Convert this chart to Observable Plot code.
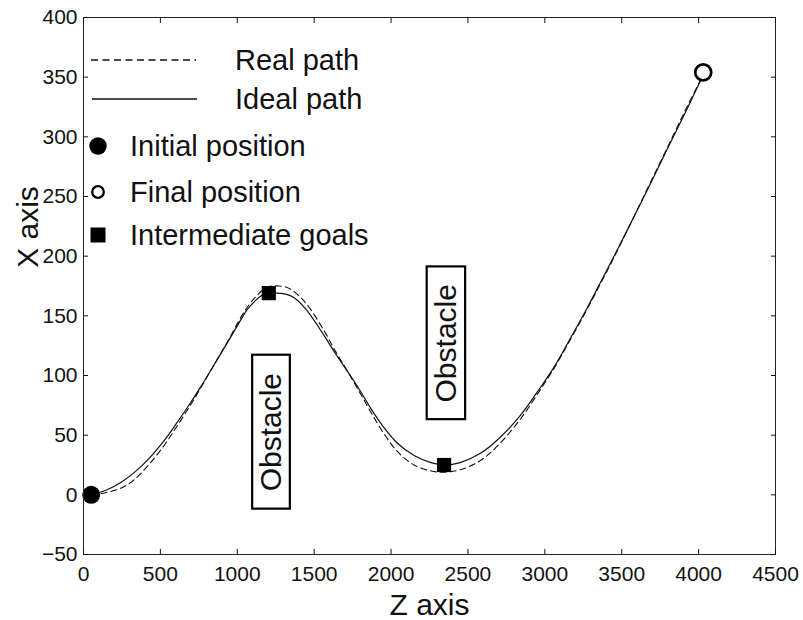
<!DOCTYPE html>
<html><head><meta charset="utf-8">
<script src="https://cdn.jsdelivr.net/npm/d3@7"></script>
<script src="https://cdn.jsdelivr.net/npm/@observablehq/plot@0.6"></script>
<style>body{margin:0;background:#fff}#chart{width:803px;height:620px}</style>
</head><body><div id="chart"></div>
<script>
// Ideal path (solid)
const zIdeal = [50,150,250,333,430,528,600,680,760,831,900,961,1020,1069,1120,1170,1210,1260,1320,1372,1450,1567,1640,1719,1800,1870,1950,2043,2150,2260,2346,2450,2584,2700,2844,2950,3060,3170,3277,3370,3450,3560,3680,3797,3920,4030];
const xIdeal = [0,4,11,19,31,46,59,74,90,105,120,133,146,156,163,168,169,169,168,165,155,133,118,103,87,72,57,43,33,27,25,27,35,47,67,86,107,132,157,180,200,228,259,290,322,352];
// Real path (dashed)
const zReal = [50,150,250,333,430,528,600,680,760,831,900,961,1020,1069,1120,1170,1220,1270,1320,1372,1450,1567,1640,1719,1800,1870,1950,2043,2150,2260,2346,2450,2584,2700,2844,2950,3060,3170,3277,3370,3450,3560,3680,3797,3920,4030];
const xReal = [0,2,6,13,26,42,56,72,89,105,120,134,148,158,166,172,175,175,174,170,160,137,120,103,85,69,52,36,25,20,19,21,29,42,64,84,106,131,156,179,199,228,260,291,324,352];
// Markers
const initialZ = [50], initialX = [0];
const finalZ = [4030], finalX = [354];
const goalZ = [1205, 2345], goalX = [169, 25];
// Obstacles
const obstacleZ1 = [1100, 2235], obstacleZ2 = [1345, 2485];
const obstacleX1 = [-12, 63], obstacleX2 = [117, 191];
const obstacleLabels = ["Obstacle", "Obstacle"];
// Axes
const zTicks = [0,500,1000,1500,2000,2500,3000,3500,4000,4500];
const xTicks = [-50,0,50,100,150,200,250,300,350,400];
const legendLabels = ["Real path","Ideal path","Initial position","Final position","Intermediate goals"];

const ideal = zIdeal.map((z,i) => ({z, x: xIdeal[i]}));
const real = zReal.map((z,i) => ({z, x: xReal[i]}));
const obstacles = obstacleZ1.map((z1,i) => ({z1, z2: obstacleZ2[i], x1: obstacleX1[i], x2: obstacleX2[i], label: obstacleLabels[i]}));
const FONT = "Liberation Sans, Arial, Helvetica, sans-serif";

function legend(index, scales, values, dims) {
  const g = d3.create("svg:g").attr("font-family", FONT).attr("font-size", 29).attr("text-anchor", "start");
  const x0 = dims.marginLeft, y0 = dims.marginTop;
  const rows = [43, 82, 129, 175, 218];
  g.append("line").attr("x1", x0+8).attr("x2", x0+113).attr("y1", y0+rows[0]).attr("y2", y0+rows[0])
    .attr("stroke","#111").attr("stroke-width",1.5).attr("stroke-dasharray","7,4.5");
  g.append("line").attr("x1", x0+9).attr("x2", x0+114).attr("y1", y0+rows[1]).attr("y2", y0+rows[1])
    .attr("stroke","#111").attr("stroke-width",1.6);
  g.append("circle").attr("cx", x0+15).attr("cy", y0+rows[2]).attr("r", 8.7).attr("fill","#000");
  g.append("circle").attr("cx", x0+15).attr("cy", y0+rows[3]).attr("r", 5.8).attr("fill","#fff").attr("stroke","#000").attr("stroke-width",2.3);
  g.append("rect").attr("x", x0+15-7.5).attr("y", y0+rows[4]-7.5).attr("width",15).attr("height",15).attr("fill","#000");
  const tx = [152, 152, 47, 47, 47];
  legendLabels.forEach((t,i) => {
    g.append("text").attr("x", x0+tx[i]).attr("y", y0+rows[i]+10.4).attr("fill","#111").attr("text-anchor","start").text(t);
  });
  return g.node();
}

const fmt = d3.format("d");
const chart = Plot.plot({
  width: 803, height: 620,
  marginLeft: 83, marginRight: 28, marginTop: 17, marginBottom: 66,
  style: {fontFamily: FONT, background: "#fff", color: "#111"},
  x: {domain: [0, 4500]},
  y: {domain: [-50, 400]},
  marks: [
    Plot.rect(obstacles, {x1: "z1", x2: "z2", y1: "x1", y2: "x2", fill: "#fff", stroke: "#000", strokeWidth: 2.2}),
    Plot.text(obstacles, {x: d => (d.z1+d.z2)/2, y: d => (d.x1+d.x2)/2, text: "label", rotate: -90, fontSize: 30, fill: "#111"}),
    Plot.line(real, {x: "z", y: "x", curve: "catmull-rom", stroke: "#111", strokeWidth: 1.1, strokeDasharray: "6,4"}),
    Plot.line(ideal, {x: "z", y: "x", curve: "catmull-rom", stroke: "#111", strokeWidth: 1.2}),
    Plot.dot(initialZ.map((z,i)=>({z, x: initialX[i]})), {x: "z", y: "x", r: 9, fill: "#000"}),
    Plot.dot(finalZ.map((z,i)=>({z, x: finalX[i]})), {x: "z", y: "x", r: 8, fill: "#fff", stroke: "#000", strokeWidth: 2.7}),
    Plot.dot(goalZ.map((z,i)=>({z, x: goalX[i]})), {x: "z", y: "x", symbol: "square", r: 8, fill: "#000"}),
    Plot.frame({stroke: "#222", strokeWidth: 1}),
    Plot.axisX({ticks: zTicks, tickFormat: fmt, tickSize: 0, tickPadding: 12, fontSize: 21, label: null}),
    Plot.axisY({ticks: xTicks, tickFormat: fmt, tickSize: 0, tickPadding: 6, fontSize: 21, label: null}),
    Plot.axisX({ticks: zTicks, tickSize: -5, text: null, label: null}),
    Plot.axisX({ticks: zTicks, anchor: "top", tickSize: -5, text: null, label: null}),
    Plot.axisY({ticks: xTicks, tickSize: -5, text: null, label: null}),
    Plot.axisY({ticks: xTicks, anchor: "right", tickSize: -5, text: null, label: null}),
    Plot.text(["Z axis"], {frameAnchor: "bottom", lineAnchor: "middle", textAnchor: "middle", dy: 51, fontSize: 30, fill: "#111"}),
    Plot.text(["X axis"], {frameAnchor: "left", lineAnchor: "middle", textAnchor: "middle", rotate: -90, dx: -55, dy: -59, fontSize: 30, fill: "#111"}),
    legend
  ]
});
document.getElementById("chart").append(chart);
</script></body></html>
